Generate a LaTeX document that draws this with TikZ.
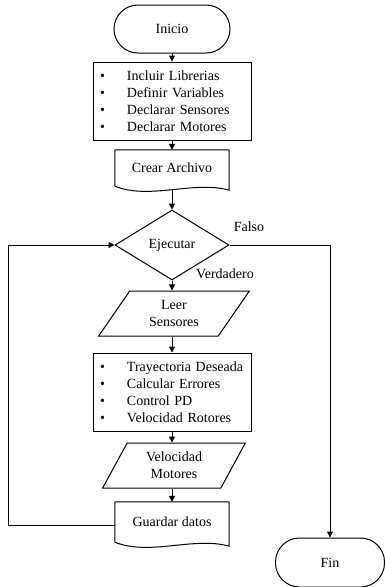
\documentclass[tikz,border=0pt]{standalone}
\usepackage{fontspec}
\setmainfont{Liberation Serif}
\usetikzlibrary{shapes.geometric,arrows.meta}
\newcommand{\itm}[1]{\makebox[27pt][l]{\textbullet}#1}
\newcommand{\docwave}[1]{\draw[linea] (#1.south west) -- (#1.north west) -- (#1.north east) -- ([yshift=-4pt]#1.south east) .. controls +(-35,-10) and +(35,14) .. (#1.south west);}

\begin{document}
\begin{tikzpicture}[x=1pt,y=-1pt,
  every node/.style={font=\fontsize{14}{17}\selectfont},
  linea/.style={line width=1pt},
  flecha/.style={linea,-{Triangle[length=6pt,width=6pt]}},
  term/.style={linea,draw,rectangle,rounded corners=24pt,minimum width=116pt,minimum height=48pt},
  bloque/.style={linea,draw,rectangle,minimum width=158pt,minimum height=78pt,text width=144pt,align=left,inner xsep=7pt},
  doc/.style={rectangle,minimum width=114pt,minimum height=36pt},
  datos/.style={linea,draw,trapezium,trapezium stretches=true,minimum width=151pt,minimum height=45pt,align=center},
  decision/.style={linea,draw,diamond,minimum width=114pt,minimum height=70pt,inner sep=0pt}]
\useasboundingbox (0,0) rectangle (384,587);
\node[term] (inicio) at (172,29) {Inicio};
\node[bloque] (decl) at (172,101) {\itm{Incluir Librerias}\\\itm{Definir Variables}\\\itm{Declarar Sensores}\\\itm{Declarar Motores}};
\node[doc] (crear) at (172,168) {Crear Archivo};
\docwave{crear}
\node[decision] (ejec) at (172,245) {Ejecutar};
\node (falso) at (249,227) {Falso};
\node (verd) at (225,274) {Verdadero};
\node[datos,trapezium left angle=59,trapezium right angle=121] (leer) at (174,313.5) {Leer\\Sensores};
\node[bloque] (calc) at (172,392) {\itm{Trayectoria Deseada}\\\itm{Calcular Errores}\\\itm{Control PD}\\\itm{Velocidad Rotores}};
\node[datos,minimum width=144pt,trapezium left angle=64,trapezium right angle=116] (velo) at (174,465.5) {Velocidad\\Motores};
\node[doc,minimum height=40pt] (guard) at (172,522) {Guardar datos};
\docwave{guard}
\node[term,minimum width=109pt,minimum height=49pt] (fin) at (330,562.5) {Fin};

\draw[flecha] (inicio) -- (decl);
\draw[flecha] (decl) -- (crear);
\draw[flecha] ([yshift=-4pt]crear.south) -- (ejec);
\draw[flecha] (ejec) -- (ejec.south |- leer.north);
\draw[flecha] (calc.north |- leer.south) -- (calc);
\draw[flecha] (calc) -- (calc.south |- velo.north);
\draw[flecha] (guard.north |- velo.south) -- (guard);
\draw[flecha] ([yshift=-3pt]guard.west) -- ++(-106,0) |- (ejec.west);
\draw[flecha] (ejec.east) -| (fin.north);
\end{tikzpicture}
\end{document}
